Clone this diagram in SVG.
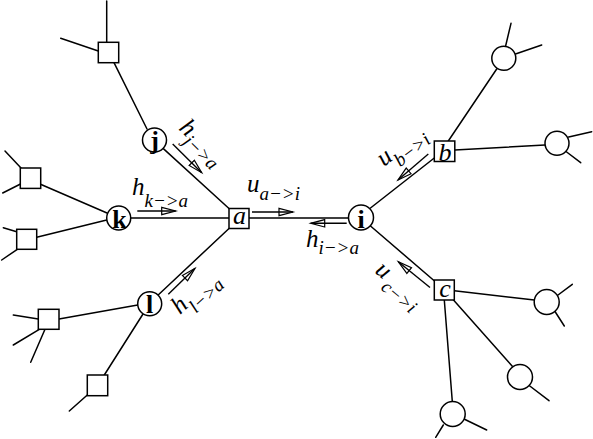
<svg xmlns="http://www.w3.org/2000/svg" width="593" height="439" viewBox="0 0 593 439">
<style>
.e{stroke:#000;stroke-width:1.5;fill:none;stroke-linecap:round}
.n{fill:#fff;stroke:#000;stroke-width:1.5}
.m{stroke:#000;stroke-width:1.4;fill:none;marker-end:url(#ah)}
.cl{font-family:"Liberation Serif",serif;font-weight:bold;font-size:26px;text-anchor:middle}
.sl{font-family:"Liberation Serif",serif;font-style:italic;font-size:26px;text-anchor:middle}
.lb{font-family:"Liberation Serif",serif;font-style:italic;font-size:25px}
.sb{font-size:19px}
</style>
<defs>
<marker id="ah" markerWidth="18" markerHeight="10" refX="15" refY="5" orient="auto" markerUnits="userSpaceOnUse">
<path d="M1,1.3 L15,5 L1,8.7 Z" fill="none" stroke="#000" stroke-width="1.2"/>
</marker>
</defs>
<g id="connectors">
<line class="e" x1="106.7" y1="1" x2="106.7" y2="42"/>
<line class="e" x1="60.7" y1="38.3" x2="98.3" y2="51"/>
<line class="e" x1="114" y1="62.7" x2="147" y2="129"/>
<line class="e" x1="162.8" y1="148.1" x2="229" y2="208.5"/>
<line class="e" x1="5" y1="151" x2="21" y2="168"/>
<line class="e" x1="2.7" y1="193" x2="20.5" y2="184"/>
<line class="e" x1="40.5" y1="184.3" x2="107" y2="213"/>
<line class="e" x1="3.3" y1="227.7" x2="16.7" y2="231.7"/>
<line class="e" x1="1.7" y1="260" x2="17.3" y2="249.3"/>
<line class="e" x1="36.7" y1="237.3" x2="106.7" y2="220"/>
<line class="e" x1="130.5" y1="218" x2="229" y2="218"/>
<line class="e" x1="13.3" y1="315" x2="38.3" y2="319"/>
<line class="e" x1="13.3" y1="345" x2="39.3" y2="329.3"/>
<line class="e" x1="30.7" y1="362.3" x2="45" y2="329.3"/>
<line class="e" x1="59" y1="319" x2="137.7" y2="305"/>
<line class="e" x1="69.3" y1="411" x2="87.3" y2="395"/>
<line class="e" x1="104.3" y1="375" x2="143" y2="314"/>
<line class="e" x1="158.7" y1="294.5" x2="229" y2="228.5"/>
<line class="e" x1="249" y1="218" x2="348.5" y2="218"/>
<line class="e" x1="370.5" y1="208" x2="434.3" y2="158"/>
<line class="e" x1="370.5" y1="226" x2="434.5" y2="281"/>
<line class="e" x1="448.3" y1="141" x2="496.7" y2="69"/>
<line class="e" x1="454.8" y1="150" x2="545" y2="145"/>
<line class="e" x1="505.5" y1="46.5" x2="511" y2="23.3"/>
<line class="e" x1="515.5" y1="54" x2="541.7" y2="45"/>
<line class="e" x1="568.7" y1="137" x2="591.7" y2="131.7"/>
<line class="e" x1="566" y1="151.5" x2="580.7" y2="162.7"/>
<line class="e" x1="454.3" y1="290.7" x2="534.3" y2="300"/>
<line class="e" x1="453.5" y1="300" x2="512.5" y2="366.5"/>
<line class="e" x1="444.3" y1="300" x2="452.3" y2="401.5"/>
<line class="e" x1="556.7" y1="296" x2="572.3" y2="284.3"/>
<line class="e" x1="555" y1="311.5" x2="564.3" y2="326"/>
<line class="e" x1="528.5" y1="385" x2="549" y2="400.7"/>
<line class="e" x1="443.3" y1="425" x2="435.7" y2="437.3"/>
<line class="e" x1="464" y1="419" x2="486.7" y2="430"/>
<line class="m" x1="172.7" y1="144" x2="201.7" y2="172.7"/>
<line class="m" x1="137.3" y1="211" x2="175.7" y2="211"/>
<line class="m" x1="168.3" y1="294.3" x2="195" y2="268.3"/>
<line class="m" x1="252" y1="212" x2="293" y2="212"/>
<line class="m" x1="346.7" y1="223.3" x2="310.7" y2="223.3"/>
<line class="m" x1="428.3" y1="154" x2="398" y2="180"/>
<line class="m" x1="430" y1="287.5" x2="398.3" y2="261.7"/>
</g>
<g id="labels">
<text class="lb" x="132" y="195">h<tspan class="sb" dy="11.5">k−&gt;a</tspan></text>
<text class="lb" x="247" y="192">u<tspan class="sb" dy="8">a−&gt;i</tspan></text>
<text class="lb" x="306" y="247">h<tspan class="sb" dy="6.5">i−&gt;a</tspan></text>
<text class="lb" transform="translate(178,129) rotate(44)">h<tspan class="sb" dy="7">j−&gt;a</tspan></text>
<text class="lb" transform="translate(180,315) rotate(-43)">h<tspan class="sb" dy="10">l−&gt;a</tspan></text>
<text class="lb" transform="translate(384,167) rotate(-38)">u<tspan class="sb" dy="10">b−&gt;i</tspan></text>
<text class="lb" transform="translate(374,272) rotate(40)">u<tspan class="sb" dx="3" dy="9">c−&gt;i</tspan></text>
</g>
<g id="sqJ"><rect class="n" x="98.3" y="42.3" width="20.4" height="20.4"/></g>
<g id="nj"><circle class="n" cx="154.5" cy="140" r="12"/><text class="cl" x="154.5" y="149">j</text></g>
<g id="sqK1"><rect class="n" x="20.3" y="168" width="20.4" height="20.4"/></g>
<g id="sqK2"><rect class="n" x="16.7" y="229.3" width="20" height="20"/></g>
<g id="nk"><circle class="n" cx="118.7" cy="218" r="12"/><text class="cl" x="119.5" y="227.5">k</text></g>
<g id="sqL1"><rect class="n" x="38.3" y="309.3" width="20.7" height="20"/></g>
<g id="sqL2"><rect class="n" x="87.3" y="375" width="20.4" height="20.7"/></g>
<g id="nl"><circle class="n" cx="149.7" cy="303.7" r="12"/><text class="cl" x="149.7" y="313">l</text></g>
<g id="na"><rect class="n" x="229" y="208.5" width="20" height="20"/><text class="sl" x="239.5" y="223.5">a</text></g>
<g id="ni"><circle class="n" cx="361" cy="217.5" r="12.5"/><text class="cl" x="361" y="227.5">i</text></g>
<g id="nb"><rect class="n" x="434.3" y="141" width="20.5" height="20.5"/><text class="sl" x="445" y="160.5">b</text></g>
<g id="nc"><rect class="n" x="434.3" y="280" width="20" height="20"/><text class="sl" x="445" y="297">c</text></g>
<g id="vb1"><circle class="n" cx="503.8" cy="58.3" r="12"/></g>
<g id="vb2"><circle class="n" cx="557" cy="143.3" r="12"/></g>
<g id="vc1"><circle class="n" cx="546.7" cy="302" r="12.5"/></g>
<g id="vc2"><circle class="n" cx="520" cy="377" r="12.5"/></g>
<g id="vc3"><circle class="n" cx="452.7" cy="414" r="12.5"/></g>
</svg>
